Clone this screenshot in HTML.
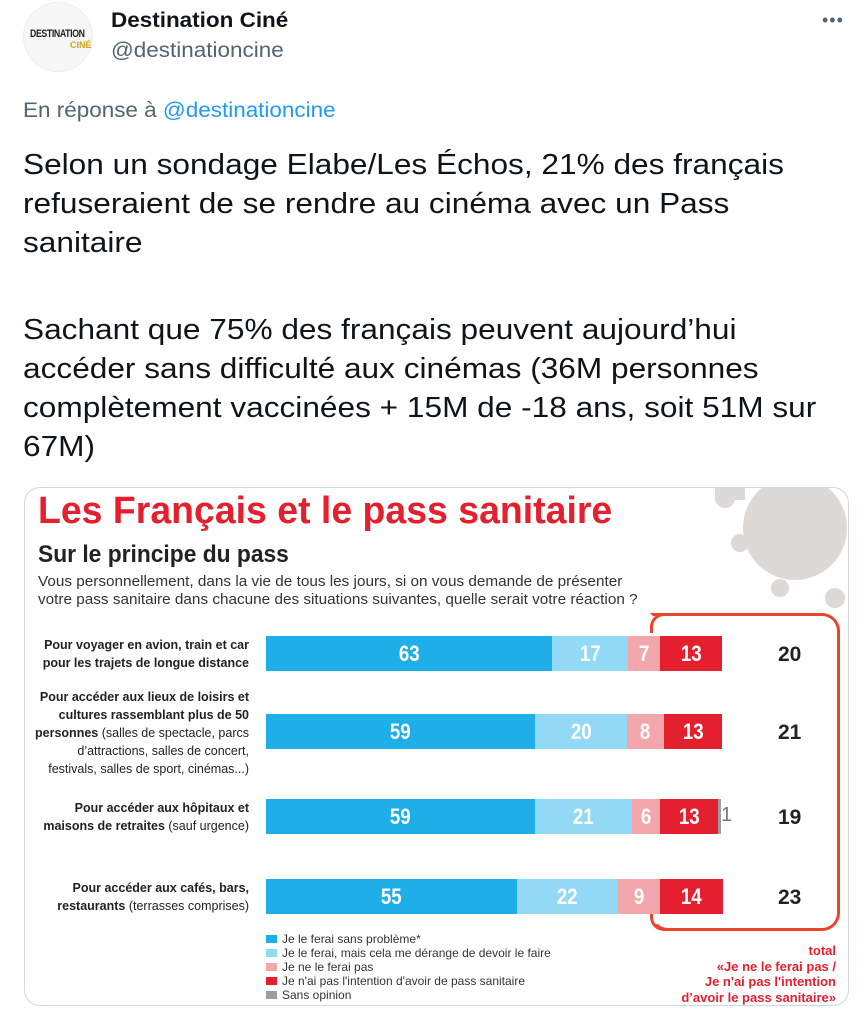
<!DOCTYPE html>
<html><head><meta charset="utf-8">
<style>
*{margin:0;padding:0;box-sizing:border-box}
body{width:867px;height:1024px;background:#fff;position:relative;overflow:hidden;font-family:"Liberation Sans",sans-serif;color:#0f1419}
.a{position:absolute;white-space:nowrap}
.tw{font-size:29px;line-height:39px;left:23px;transform:scaleX(1.09);transform-origin:0 0}
.bar{position:absolute;height:35px;color:#fff;font-weight:bold;font-size:22px;text-align:center;line-height:35px}
.bar i{font-style:normal;display:inline-block;transform:scaleX(0.85)}
.b1{background:#1eaee8}.b2{background:#92d9f5}.b3{background:#f3a6ab}.b4{background:#e4202e}.b5{background:#9a9ea3}
.lab{position:absolute;right:618px;text-align:right;font-size:12.5px;line-height:18px;color:#222}
.lab b{font-weight:bold}
.tot{position:absolute;left:778px;font-weight:bold;font-size:21px;color:#222}
.lg{position:absolute;left:266px;font-size:12px;color:#333;line-height:14px}
.lg span{display:inline-block;width:11px;height:8px;margin-right:5px;vertical-align:0}
</style></head><body>
<div class="a" style="left:23px;top:2px;width:70px;height:70px;border-radius:50%;background:#f7f7f7;border:1px solid #eee"></div>
<div class="a" style="left:30px;top:28px;font-size:11px;font-weight:bold;color:#222;letter-spacing:-0.5px;transform:scaleX(0.8);transform-origin:0 0">DESTINATION</div>
<div class="a" style="left:70px;top:40px;font-size:9px;font-weight:bold;color:#d4a017">CINÉ</div>
<div class="a" style="left:111px;top:9px;font-size:21px;font-weight:bold;transform:scaleX(1.07);transform-origin:0 0">Destination Ciné</div>
<div class="a" style="left:111px;top:39px;font-size:21px;color:#536471;transform:scaleX(1.07);transform-origin:0 0">@destinationcine</div>
<div class="a" style="left:822px;top:10px;font-size:18px;color:#536471;letter-spacing:1px">•••</div>
<div class="a" style="left:23px;top:99px;font-size:21px;color:#536471;transform:scaleX(1.07);transform-origin:0 0">En réponse à <span style="color:#1d9bf0">@destinationcine</span></div>
<div class="a tw" style="top:146px">Selon un sondage Elabe/Les Échos, 21% des français</div>
<div class="a tw" style="top:185px">refuseraient de se rendre au cinéma avec un Pass</div>
<div class="a tw" style="top:224px">sanitaire</div>
<div class="a tw" style="top:311px">Sachant que 75% des français peuvent aujourd’hui</div>
<div class="a tw" style="top:350px">accéder sans difficulté aux cinémas (36M personnes</div>
<div class="a tw" style="top:389px">complètement vaccinées + 15M de -18 ans, soit 51M sur</div>
<div class="a tw" style="top:428px">67M)</div>

<div class="a" style="left:24px;top:487px;width:825px;height:519px;border:1px solid #cfd9de;border-radius:16px;overflow:hidden;background:#fff">
 <svg width="825" height="140" style="position:absolute;left:0;top:0">
  <g fill="#ddd9d6"><circle cx="770" cy="40" r="52"/><circle cx="700" cy="10" r="10"/><circle cx="715" cy="55" r="9"/><circle cx="755" cy="100" r="9"/><circle cx="810" cy="110" r="10"/><rect x="690" y="0" width="30" height="12"/></g>
 </svg>
</div>
<div class="a" style="left:38px;top:490px;font-size:38px;font-weight:bold;color:#e4202e;transform:scaleX(0.985);transform-origin:0 0">Les Français et le pass sanitaire</div>
<div class="a" style="left:38px;top:541px;font-size:24px;font-weight:bold;color:#222;transform:scaleX(0.95);transform-origin:0 0">Sur le principe du pass</div>
<div class="a" style="left:38px;top:573px;font-size:15px;color:#333;line-height:18px;transform:scaleX(1.02);transform-origin:0 0">Vous personnellement, dans la vie de tous les jours, si on vous demande de présenter<br>votre pass sanitaire dans chacune des situations suivantes, quelle serait votre réaction ?</div>

<div class="a" style="left:650px;top:613px;width:190px;height:318px;border:3px solid #e8442e;border-radius:18px;border-left-color:transparent;border-top-left-radius:0"></div>
<div class="a" style="left:650px;top:613px;width:30px;height:20px;border-top:3px solid #e8442e;border-left:3px solid #e8442e;border-top-left-radius:14px;background:#fff"></div>
<div class="a" style="left:650px;top:640px;width:6px;height:270px;background:#fff"></div>
<div class="a" style="left:650px;top:905px;width:30px;height:26px;border-bottom:3px solid #e8442e;border-left:3px solid #e8442e;border-bottom-left-radius:14px"></div>

<div class="lab" style="top:636px"><b>Pour voyager en avion, train et car<br>pour les trajets de longue distance</b></div>
<div class="bar b1" style="left:266px;top:636px;width:286px"><i>63</i></div>
<div class="bar b2" style="left:552px;top:636px;width:76px"><i>17</i></div>
<div class="bar b3" style="left:628px;top:636px;width:32px"><i>7</i></div>
<div class="bar b4" style="left:660px;top:636px;width:62px"><i>13</i></div>
<div class="tot" style="top:643px">20</div>

<div class="lab" style="top:688px"><b>Pour accéder aux lieux de loisirs et<br>cultures rassemblant plus de 50<br>personnes</b> (salles de spectacle, parcs<br>d’attractions, salles de concert,<br>festivals, salles de sport, cinémas...)</div>
<div class="bar b1" style="left:266px;top:714px;width:269px"><i>59</i></div>
<div class="bar b2" style="left:535px;top:714px;width:92px"><i>20</i></div>
<div class="bar b3" style="left:627px;top:714px;width:37px"><i>8</i></div>
<div class="bar b4" style="left:664px;top:714px;width:58px"><i>13</i></div>
<div class="tot" style="top:721px">21</div>

<div class="lab" style="top:799px"><b>Pour accéder aux hôpitaux et<br>maisons de retraites</b> (sauf urgence)</div>
<div class="bar b1" style="left:266px;top:799px;width:269px"><i>59</i></div>
<div class="bar b2" style="left:535px;top:799px;width:97px"><i>21</i></div>
<div class="bar b3" style="left:632px;top:799px;width:28px"><i>6</i></div>
<div class="bar b4" style="left:660px;top:799px;width:58px"><i>13</i></div>
<div class="bar b5" style="left:718px;top:799px;width:3px"></div>
<div class="a" style="left:721px;top:804px;font-size:20px;color:#777">1</div>
<div class="tot" style="top:806px">19</div>

<div class="lab" style="top:879px"><b>Pour accéder aux cafés, bars,<br>restaurants</b> (terrasses comprises)</div>
<div class="bar b1" style="left:266px;top:879px;width:251px"><i>55</i></div>
<div class="bar b2" style="left:517px;top:879px;width:101px"><i>22</i></div>
<div class="bar b3" style="left:618px;top:879px;width:42px"><i>9</i></div>
<div class="bar b4" style="left:660px;top:879px;width:63px"><i>14</i></div>
<div class="tot" style="top:886px">23</div>

<div class="lg" style="top:932px"><span class="b1"></span>Je le ferai sans problème*</div>
<div class="lg" style="top:946px"><span class="b2"></span>Je le ferai, mais cela me dérange de devoir le faire</div>
<div class="lg" style="top:960px"><span class="b3"></span>Je ne le ferai pas</div>
<div class="lg" style="top:974px"><span class="b4"></span>Je n'ai pas l'intention d'avoir de pass sanitaire</div>
<div class="lg" style="top:988px"><span class="b5"></span>Sans opinion</div>
<div class="a" style="right:31px;top:943px;text-align:right;font-size:13px;font-weight:bold;color:#e4202e;line-height:15.5px">total<br>«Je ne le ferai pas /<br>Je n'ai pas l'intention<br>d’avoir le pass sanitaire»</div>
</body></html>
